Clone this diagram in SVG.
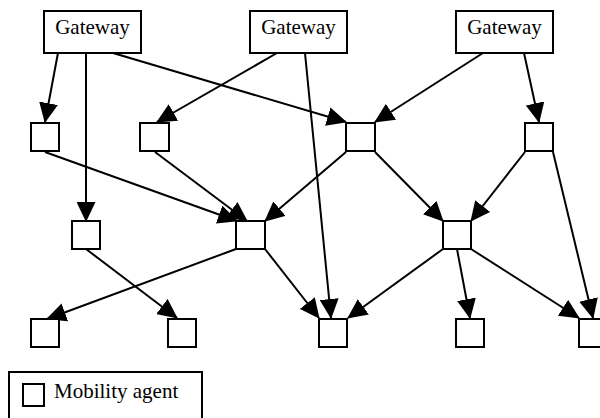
<svg xmlns="http://www.w3.org/2000/svg" width="600" height="418" viewBox="0 0 600 418">
<style>
.n{fill:#fff;stroke:#000;stroke-width:2}
.t{font-family:"Liberation Serif","Times New Roman",serif;font-size:21px;fill:#000}
.e line{stroke:#000;stroke-width:2;marker-end:url(#ah)}
</style>
<defs>
<marker id="ah" viewBox="0 0 20 19" refX="19" refY="9.5" markerWidth="20" markerHeight="19" markerUnits="userSpaceOnUse" orient="auto">
<path d="M0,0 L20,9.5 L0,19 z" fill="#000"/>
</marker>
</defs>
<rect x="0" y="0" width="600" height="418" fill="#fff"/>
<g class="e" id="connectors">
<line x1="58" y1="53" x2="45" y2="122"/>
<line x1="86" y1="53" x2="86" y2="221"/>
<line x1="113" y1="53" x2="346" y2="122"/>
<line x1="277" y1="53" x2="157" y2="122"/>
<line x1="305" y1="53" x2="331" y2="318"/>
<line x1="483" y1="53" x2="375" y2="122"/>
<line x1="524" y1="53" x2="539" y2="122"/>
<line x1="45" y1="152" x2="237" y2="221"/>
<line x1="155" y1="152" x2="247" y2="221"/>
<line x1="346" y1="152" x2="265" y2="221"/>
<line x1="375" y1="152" x2="443" y2="221"/>
<line x1="525" y1="152" x2="471" y2="221"/>
<line x1="553" y1="152" x2="593" y2="318"/>
<line x1="86" y1="249" x2="177" y2="318"/>
<line x1="236" y1="249" x2="47" y2="319"/>
<line x1="265" y1="249" x2="319" y2="318"/>
<line x1="443" y1="249" x2="348" y2="318"/>
<line x1="457" y1="249" x2="470" y2="318"/>
<line x1="471" y1="249" x2="579" y2="318"/>
</g>
<g id="gw1"><rect class="n" x="44" y="11" width="97" height="42"/><text class="t" x="92.5" y="34" text-anchor="middle">Gateway</text></g>
<g id="gw2"><rect class="n" x="250" y="11" width="97" height="42"/><text class="t" x="298.5" y="34" text-anchor="middle">Gateway</text></g>
<g id="gw3"><rect class="n" x="456" y="11" width="97" height="42"/><text class="t" x="504.5" y="34" text-anchor="middle">Gateway</text></g>
<g id="a"><rect class="n" x="31" y="123" width="28" height="28"/></g>
<g id="b"><rect class="n" x="140" y="123" width="29" height="28"/></g>
<g id="c"><rect class="n" x="346" y="123" width="29" height="28"/></g>
<g id="d"><rect class="n" x="525" y="123" width="28" height="28"/></g>
<g id="e"><rect class="n" x="72" y="221" width="28" height="28"/></g>
<g id="f"><rect class="n" x="236" y="221" width="29" height="28"/></g>
<g id="g"><rect class="n" x="443" y="221" width="28" height="28"/></g>
<g id="h"><rect class="n" x="31" y="319" width="28" height="28"/></g>
<g id="i"><rect class="n" x="168" y="319" width="28" height="28"/></g>
<g id="j"><rect class="n" x="319" y="319" width="28" height="28"/></g>
<g id="k"><rect class="n" x="456" y="319" width="28" height="28"/></g>
<g id="l"><rect class="n" x="579" y="319" width="28" height="28"/></g>
<g id="legend">
<rect class="n" x="9" y="372" width="193" height="60"/>
<rect class="n" x="23" y="384" width="21" height="22"/>
<text class="t" x="54" y="398">Mobility agent</text>
</g>
</svg>
